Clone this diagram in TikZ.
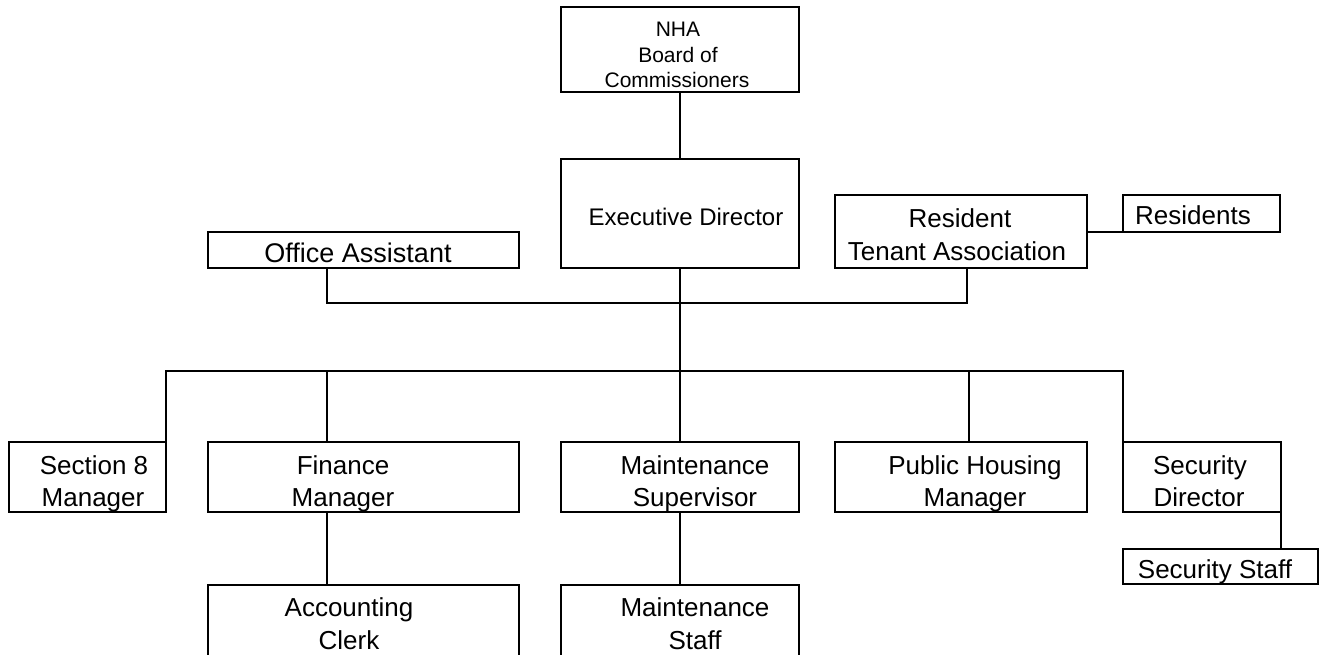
\documentclass[tikz,border=0pt]{standalone}
\usepackage{fontspec}
\setmainfont{Liberation Sans}
\usetikzlibrary{calc}
\begin{document}
\begin{tikzpicture}[x=1pt,y=-1pt,
  box/.style={draw, line width=2pt, rectangle, inner sep=0pt, outer sep=0pt},
  conn/.style={line width=2pt},
  lbl/.style={anchor=base, inner sep=0pt, font=\fontsize{26}{31}\selectfont},
  lbloff/.style={anchor=base, inner sep=0pt, font=\fontsize{27}{32}\selectfont},
  lblexec/.style={anchor=base, inner sep=0pt, font=\fontsize{24}{29}\selectfont},
  lblsmall/.style={anchor=base, inner sep=0pt, font=\fontsize{21}{25}\selectfont}]
\useasboundingbox (0,0) rectangle (1326,655);
\clip (0,0) rectangle (1326,655);
% boxes
\node[box, minimum width=238pt, minimum height=85pt] (nha) at (680,49.5) {};
\node[box, minimum width=238pt, minimum height=109pt] (exec) at (680,213.5) {};
\node[box, minimum width=252pt, minimum height=73pt] (rta) at (961,231.5) {};
\node[box, minimum width=157pt, minimum height=37pt] (res) at (1201.5,213.5) {};
\node[box, minimum width=311pt, minimum height=36pt] (off) at (363.5,250) {};
\node[box, minimum width=157pt, minimum height=70pt] (s8) at (87.5,477) {};
\node[box, minimum width=311pt, minimum height=70pt] (fin) at (363.5,477) {};
\node[box, minimum width=238pt, minimum height=70pt] (msup) at (680,477) {};
\node[box, minimum width=252pt, minimum height=70pt] (phm) at (961,477) {};
\node[box, minimum width=158pt, minimum height=70pt] (secd) at (1202,477) {};
\node[box, minimum width=195pt, minimum height=35pt] (secs) at (1220.5,566.5) {};
\node[box, minimum width=311pt, minimum height=85pt] (acc) at (363.5,627.5) {};
\node[box, minimum width=238pt, minimum height=85pt] (mst) at (680,627.5) {};
% texts
\node[lblsmall] (nha1) at (678,37) {NHA};
\node[lblsmall] (nha2) at (678,63) {Board of};
\node[lblsmall] (nha3) at (677,88) {Commissioners};
\node[lblexec] (exec1) at (686,226) {Executive Director};
\node[lbl] (rta1) at (960,228) {Resident};
\node[lbl] (rta2) at (957,261) {Tenant Association};
\node[lbl] (res1) at (1193,225) {Residents};
\node[lbloff] (off1) at (358,262) {Office Assistant};
\node[lbl] (s81) at (94,474) {Section 8};
\node[lbl] (s82) at (93,506) {Manager};
\node[lbl] (fin1) at (343,474) {Finance};
\node[lbl] (fin2) at (343,506) {Manager};
\node[lbl] (msup1) at (695,474) {Maintenance};
\node[lbl] (msup2) at (695,506) {Supervisor};
\node[lbl] (phm1) at (975,474) {Public Housing};
\node[lbl] (phm2) at (975,506) {Manager};
\node[lbl] (secd1) at (1200,474) {Security};
\node[lbl] (secd2) at (1199,506) {Director};
\node[lbl] (secs1) at (1215,578) {Security Staff};
\node[lbl] (acc1) at (349,616) {Accounting};
\node[lbl] (acc2) at (349,649) {Clerk};
\node[lbl] (mst1) at (695,616) {Maintenance};
\node[lbl] (mst2) at (695,649) {Staff};
% bus coordinates
\coordinate (busA) at (680,303);
\coordinate (busB) at (680,371);
\coordinate (offd) at ($(off.south west)!0.383!(off.south east)$);
\coordinate (rtad) at ($(rta.south west)!0.524!(rta.south east)$);
\coordinate (find) at ($(fin.north west)!0.383!(fin.north east)$);
\coordinate (fins) at ($(fin.south west)!0.383!(fin.south east)$);
\coordinate (phmd) at ($(phm.north west)!0.532!(phm.north east)$);
% connectors
\draw[conn] (nha.south) -- (exec.north);
\draw[conn] (exec.south) -- (busB);
\draw[conn] (offd) |- (busA) -| (rtad);
\draw[conn] (s8.north east) |- (busB) -| (secd.north west);
\draw[conn] (find) -- (find |- busB);
\draw[conn] (msup.north) -- (busB);
\draw[conn] (phmd) -- (phmd |- busB);
\draw[conn] (fins) -- (fins |- acc.north);
\draw[conn] (msup.south) -- (mst.north);
\draw[conn] (secd.south east) -- (secd.south east |- secs.north);
\draw[conn] (res.south west) -- (res.south west -| rta.east);
\end{tikzpicture}
\end{document}
